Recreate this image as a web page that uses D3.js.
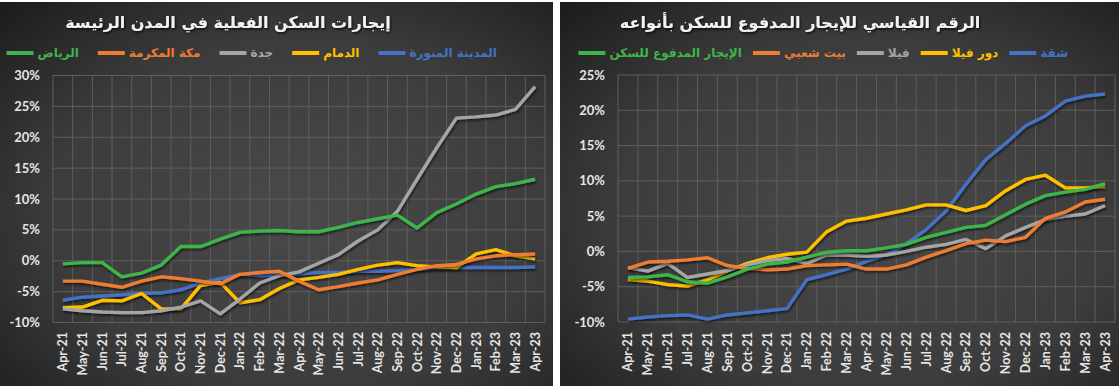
<!DOCTYPE html>
<html>
<head>
<meta charset="utf-8">
<script src="https://cdn.jsdelivr.net/npm/d3@7"></script>
<style>
  body { margin: 0; background: #fff; }
  svg { display: block; }
</style>
</head>
<body>
<svg id="chart" width="1119" height="386"></svg>
<script>
// months on both x axes
const months = ["Apr-21","May-21","Jun-21","Jul-21","Aug-21","Sep-21","Oct-21","Nov-21","Dec-21",
  "Jan-22","Feb-22","Mar-22","Apr-22","May-22","Jun-22","Jul-22","Aug-22","Sep-22","Oct-22",
  "Nov-22","Dec-22","Jan-23","Feb-23","Mar-23","Apr-23"];

// left chart - actual rents in main cities (%)
const cityTitle = "إيجارات السكن الفعلية في المدن الرئيسة";
const cityNames = ["الرياض", "مكة المكرمة", "جدة", "الدمام", "المدينة المنورة"];
const riyadh  = [-0.5,-0.3,-0.3,-2.6,-2.0,-0.7,2.3,2.3,3.5,4.6,4.8,4.9,4.7,4.7,5.4,6.2,6.8,7.4,5.3,7.8,9.2,10.8,12.0,12.5,13.2];
const makkah  = [-3.3,-3.3,-3.8,-4.3,-3.3,-2.6,-2.9,-3.3,-3.7,-2.2,-1.9,-1.7,-3.3,-4.7,-4.2,-3.6,-3.1,-2.2,-1.4,-0.8,-0.6,0.3,0.8,1.0,1.1];
const jeddah  = [-7.8,-8.1,-8.3,-8.4,-8.4,-8.1,-7.5,-6.5,-8.6,-6.2,-3.6,-2.4,-1.8,-0.4,1.0,3.2,5.0,8.0,13.2,18.3,23.1,23.3,23.6,24.5,28.2];
const dammam  = [-7.6,-7.5,-6.4,-6.5,-5.3,-7.8,-7.8,-4.0,-3.5,-6.8,-6.3,-4.5,-3.1,-2.7,-2.2,-1.4,-0.7,-0.3,-0.8,-1.0,-1.1,1.1,1.8,0.8,0.3];
const madinah = [-6.4,-5.9,-5.7,-5.5,-5.3,-5.2,-4.7,-3.6,-2.9,-2.2,-2.4,-2.3,-2.1,-1.9,-1.9,-1.7,-1.7,-1.6,-1.4,-1.2,-1.1,-1.1,-1.1,-1.1,-1.0];
const cityTicks = [30, 25, 20, 15, 10, 5, 0, -5, -10];

// right chart - paid rent index by housing type (%)
const typeTitle = "الرقم القياسي للإيجار المدفوع للسكن بأنواعه";
const typeNames = ["الإيجار المدفوع للسكن", "بيت شعبي", "فيلا", "دور فيلا", "شقة"];
const rentTotal  = [-3.7,-3.6,-3.3,-4.3,-4.5,-3.6,-2.5,-1.8,-1.5,-0.8,-0.1,0.1,0.1,0.5,1.0,2.0,2.7,3.4,3.7,5.2,6.7,7.9,8.4,8.8,9.6];
const popHouse   = [-2.4,-1.5,-1.4,-1.2,-0.9,-2.0,-2.4,-2.6,-2.5,-2.0,-1.9,-1.8,-2.5,-2.5,-1.9,-0.8,0.1,1.1,1.6,1.4,2.0,4.7,5.6,7.0,7.4];
const villa      = [-2.3,-2.8,-1.7,-3.7,-3.2,-2.7,-1.9,-1.3,-1.0,-1.7,-0.5,-0.5,-0.7,-0.5,0.0,0.6,1.0,1.7,0.4,2.2,3.4,4.5,5.0,5.3,6.5];
const villaFloor = [-4.0,-4.2,-4.7,-4.9,-4.0,-2.8,-1.7,-0.9,-0.4,-0.1,2.8,4.3,4.7,5.3,5.9,6.6,6.6,5.8,6.5,8.6,10.2,10.8,9.0,9.0,9.2];
const apartment  = [-9.6,-9.3,-9.1,-9.0,-9.6,-9.0,-8.7,-8.4,-8.1,-4.0,-3.3,-2.5,-1.4,-0.5,1.1,3.1,5.7,9.5,13.0,15.3,17.8,19.2,21.3,22.0,22.3];
const typeTicks = [25, 20, 15, 10, 5, 0, -5, -10];

// same colour order for both charts: green, orange, gray, yellow, blue
const colors = ["#3db54a", "#ed7d31", "#a5a5a5", "#ffc000", "#4472c4"];

var svg = d3.select("#chart");
var defs = svg.append("defs");

var grad = defs.append("radialGradient").attr("id", "bg")
  .attr("cx", "55%").attr("cy", "55%").attr("r", "75%");
grad.append("stop").attr("offset", "0%").attr("stop-color", "#4a4a4a");
grad.append("stop").attr("offset", "60%").attr("stop-color", "#3c3c3c");
grad.append("stop").attr("offset", "100%").attr("stop-color", "#1e1e1e");

var shadow = defs.append("filter").attr("id", "shadow")
  .attr("x", "-10%").attr("y", "-10%").attr("width", "130%").attr("height", "130%");
shadow.append("feDropShadow").attr("dx", 1).attr("dy", 2)
  .attr("stdDeviation", 1.2).attr("flood-color", "#000").attr("flood-opacity", 0.55);

var tshadow = defs.append("filter").attr("id", "tshadow");
tshadow.append("feDropShadow").attr("dx", 1).attr("dy", 1.5)
  .attr("stdDeviation", 1).attr("flood-color", "#000").attr("flood-opacity", 0.8);

function drawPanel(p) {
  var g = svg.append("g");
  g.append("rect")
    .attr("x", p.left).attr("y", 2)
    .attr("width", p.width).attr("height", 384)
    .attr("fill", "url(#bg)");

  var x = d3.scaleBand().domain(months).range([p.plot[0], p.plot[1]]);
  var y = d3.scaleLinear().domain(p.domain).range([p.plot[3], p.plot[2]]);

  // gridlines
  var grid = g.append("g").attr("stroke", "#5e5e5e").attr("stroke-width", 1);
  grid.selectAll("line.h").data(p.ticks).enter().append("line")
    .attr("x1", p.plot[0]).attr("x2", p.plot[1])
    .attr("y1", d => y(d)).attr("y2", d => y(d));
  grid.selectAll("line.v").data(months.concat(["end"])).enter().append("line")
    .attr("x1", d => d == "end" ? p.plot[1] : x(d))
    .attr("x2", d => d == "end" ? p.plot[1] : x(d))
    .attr("y1", y(p.domain[1])).attr("y2", y(p.domain[0]));

  // y labels
  g.selectAll("text.yl").data(p.ticks).enter().append("text")
    .attr("x", p.plot[0] - 13).attr("y", d => y(d) + 4.5)
    .attr("text-anchor", "end")
    .attr("fill", "#e6e6e6")
    .style("font", "bold 13px Lato, 'Open Sans', sans-serif")
    .text(d => d + "%");

  // x labels
  g.selectAll("text.xl").data(months).enter().append("text")
    .attr("transform", d => `translate(${x(d) + x.bandwidth() / 2 + 4.5},332) rotate(-90)`)
    .attr("text-anchor", "end")
    .attr("fill", "#e6e6e6")
    .style("font", "bold 12.5px Lato, 'Open Sans', sans-serif")
    .text(d => d);

  // series lines
  var line = d3.line()
    .x((d, i) => x(months[i]) + x.bandwidth() / 2)
    .y(d => y(d));
  var order = [4, 3, 2, 1, 0];
  order.forEach(function(k) {
    g.append("path")
      .datum(p.series[k])
      .attr("d", line)
      .attr("fill", "none")
      .attr("stroke", colors[k])
      .attr("stroke-width", 3.4)
      .attr("stroke-linejoin", "round")
      .attr("filter", "url(#shadow)");
  });

  // title
  g.append("text")
    .attr("x", p.titleX).attr("y", 28)
    .attr("text-anchor", "middle")
    .attr("fill", "#f2f2f2")
    .attr("filter", "url(#tshadow)")
    .style("font", "bold 16px 'DejaVu Sans', sans-serif")
    .text(p.title);

  // legend, laid out right to left starting with the last series
  var lx = p.legendRight;
  for (var k = 4; k >= 0; k--) {
    var t = g.append("text")
      .attr("y", 57)
      .attr("fill", colors[k])
      .style("font", "bold 12px 'DejaVu Sans', sans-serif")
      .text(p.names[k]);
    var w = t.node().getComputedTextLength();
    t.attr("x", lx - w);
    g.append("line")
      .attr("x1", lx - w - 31).attr("x2", lx - w - 4)
      .attr("y1", 53).attr("y2", 53)
      .attr("stroke", colors[k]).attr("stroke-width", 4);
    lx = lx - w - 31 - p.legendGap;
  }
}

drawPanel({
  left: 0, width: 553,
  plot: [53, 545, 75.5, 322.5],
  domain: [-10, 30], ticks: cityTicks,
  series: [riyadh, makkah, jeddah, dammam, madinah],
  names: cityNames, title: cityTitle, titleX: 228,
  legendRight: 497, legendGap: 19
});

drawPanel({
  left: 560, width: 559,
  plot: [618, 1115, 75, 322],
  domain: [-10, 25], ticks: typeTicks,
  series: [rentTotal, popHouse, villa, villaFloor, apartment],
  names: typeNames, title: typeTitle, titleX: 800,
  legendRight: 1068, legendGap: 11
});
</script>
</body>
</html>
